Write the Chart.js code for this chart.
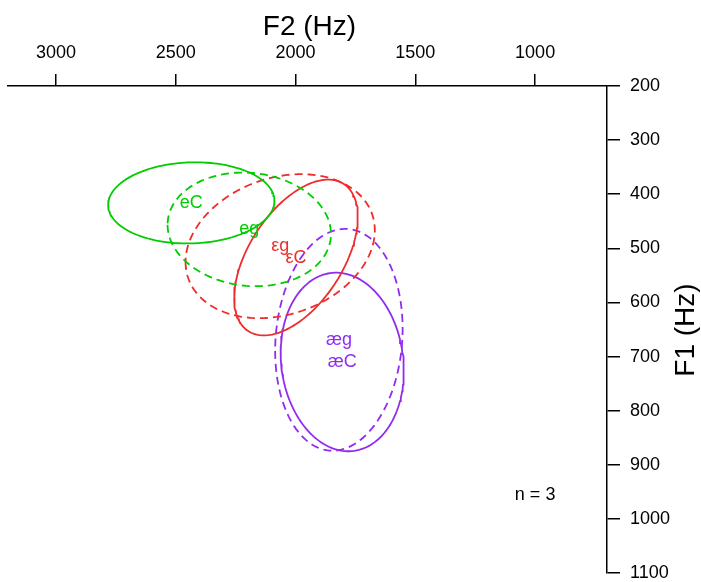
<!DOCTYPE html>
<html>
<head>
<meta charset="utf-8">
<title>F1 / F2 vowel ellipses</title>
<script src="https://cdn.jsdelivr.net/npm/chart.js@4/dist/chart.umd.min.js"></script>
<style>
  html, body { margin: 0; padding: 0; background: #fff; }
  #wrap { position: relative; width: 701px; height: 582px; }
</style>
</head>
<body>
<div id="wrap"><canvas id="vowelChart"></canvas></div>
<script>
// vowel categories (vowel + following context)
const vowels = ['eC', 'eg', 'εC', 'εg', 'æC', 'æg'];
// means (Hz)
const meanF2 = [2435, 2193, 1998, 2064, 1805, 1819];
const meanF1 = [416, 465, 517, 496, 710, 669];
// ellipse half-extent along each formant (Hz) and F1/F2 correlation
const spreadF2 = [347, 341, 258, 395, 257, 266];
const spreadF1 = [75, 105, 144, 133, 165, 205];
const corrF1F2 = [0.05, -0.08, 0.52, 0.22, -0.1, 0.1];
// tick labels
const f2Ticks = [1000, 1500, 2000, 2500, 3000];
const f1Ticks = [200, 300, 400, 500, 600, 700, 800, 900, 1000, 1100];
const sampleNote = 'n = 3';

const vowelColor = { e: '#00cd00', 'ε': '#ee2c2c', 'æ': '#912cee' };
const FONT = '"Liberation Sans", Arial, Helvetica, sans-serif';

function ellipsePoints(i) {
  const pts = [];
  const steps = 160;
  const r = corrF1F2[i];
  for (let k = 0; k <= steps; k++) {
    const t = (k / steps) * Math.PI * 2;
    pts.push({
      x: meanF2[i] + spreadF2[i] * Math.cos(t),
      y: meanF1[i] + spreadF1[i] * (r * Math.cos(t) + Math.sqrt(1 - r * r) * Math.sin(t))
    });
  }
  return pts;
}

const datasets = vowels.map((v, i) => ({
  label: v,
  data: ellipsePoints(i),
  showLine: true,
  pointRadius: 0,
  borderWidth: 1.8,
  borderColor: vowelColor[v[0]],
  borderDash: v.endsWith('g') ? [8, 5] : [],
  tension: 0
}));

const labelPlugin = {
  id: 'vowelLabels',
  afterDatasetsDraw(chart) {
    const { ctx, scales: { x, y } } = chart;
    ctx.save();
    ctx.textAlign = 'center';
    ctx.textBaseline = 'middle';
    ctx.font = `18px ${FONT}`;
    vowels.forEach((v, i) => {
      ctx.fillStyle = vowelColor[v[0]];
      ctx.fillText(v, x.getPixelForValue(meanF2[i]), y.getPixelForValue(meanF1[i]));
    });
    ctx.fillStyle = '#000';
    ctx.fillText(sampleNote, x.getPixelForValue(1000), y.getPixelForValue(955));

    // axis titles
    ctx.font = `28px ${FONT}`;
    ctx.textBaseline = 'alphabetic';
    ctx.fillText('F2 (Hz)', (chart.chartArea.left + chart.chartArea.right) / 2 + 2, 35);
    ctx.translate(694, 330);
    ctx.rotate(-Math.PI / 2);
    ctx.fillText('F1 (Hz)', 0, 0);
    ctx.restore();
  }
};

const bgPlugin = {
  id: 'whiteBg',
  beforeDraw(chart) {
    const { ctx, width, height } = chart;
    ctx.save();
    ctx.fillStyle = '#fff';
    ctx.fillRect(0, 0, width, height);
    ctx.restore();
  }
};

new Chart(document.getElementById('vowelChart'), {
  type: 'scatter',
  data: { datasets },
  plugins: [bgPlugin, labelPlugin],
  options: {
    responsive: true,
    maintainAspectRatio: false,
    animation: false,
    events: [],
    layout: { padding: { left: 8, right: 0, top: 0, bottom: 9 } },
    plugins: { legend: { display: false }, tooltip: { enabled: false } },
    scales: {
      x: {
        type: 'linear',
        position: 'top',
        reverse: true,
        min: 700,
        max: 3200,
        afterBuildTicks: (s) => { s.ticks = f2Ticks.map(v => ({ value: v })); },
        afterFit: (s) => { s.height = 86; s.paddingLeft = 0; s.paddingRight = 0; },
        grid: { drawOnChartArea: false, drawTicks: true, tickLength: 12, color: '#000', lineWidth: 1.5 },
        border: { display: true, color: '#000', width: 1.5 },
        ticks: { color: '#000', padding: 10, maxRotation: 0, font: { family: FONT, size: 18 }, callback: (v) => String(v) },
        title: { display: false }
      },
      y: {
        type: 'linear',
        position: 'right',
        reverse: true,
        min: 200,
        max: 1100,
        afterBuildTicks: (s) => { s.ticks = f1Ticks.map(v => ({ value: v })); },
        afterFit: (s) => { s.width = 94; s.paddingTop = 0; s.paddingBottom = 0; },
        grid: { drawOnChartArea: false, drawTicks: true, tickLength: 13, color: '#000', lineWidth: 1.5 },
        border: { display: true, color: '#000', width: 1.5 },
        ticks: { color: '#000', padding: 10, font: { family: FONT, size: 18 }, callback: (v) => String(v) },
        title: { display: false }
      }
    }
  }
});
</script>
</body>
</html>
